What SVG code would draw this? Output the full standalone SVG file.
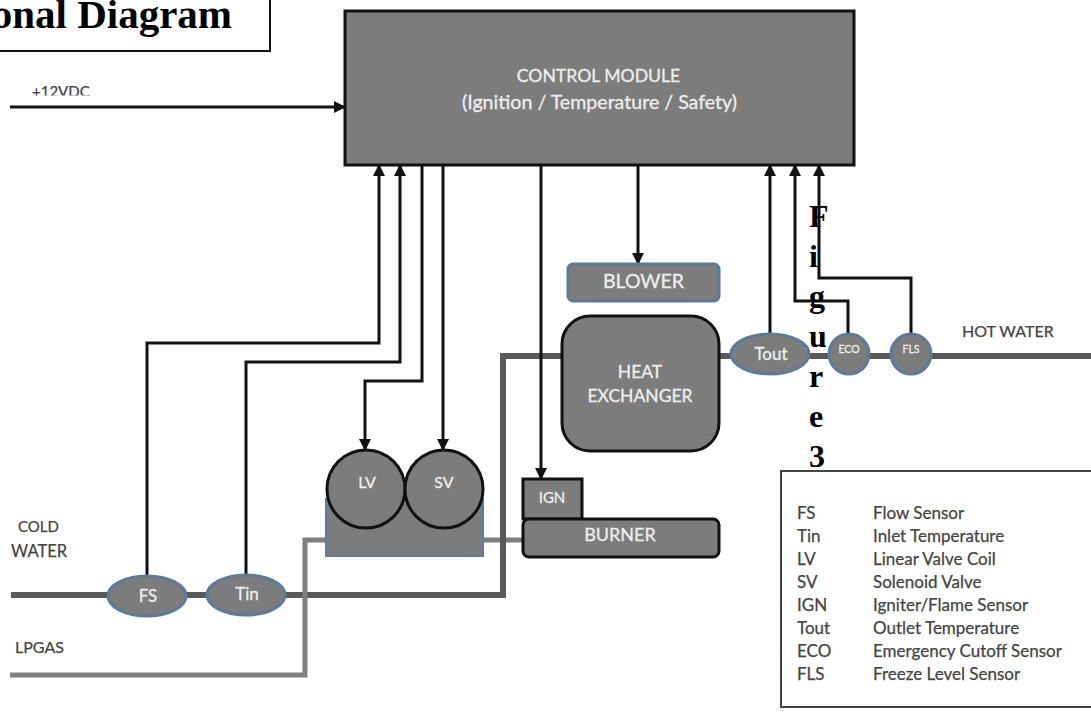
<svg xmlns="http://www.w3.org/2000/svg" width="1091" height="724" viewBox="0 0 1091 724">
<style>
text{font-family:Lato,"Open Sans","Liberation Sans",sans-serif}
.w{fill:#eee;text-anchor:middle;stroke:#eee;stroke-width:.3}
.k{fill:#444;stroke:#444;stroke-width:.25}
.t{font-family:"Liberation Serif",serif;font-weight:bold;fill:#000;stroke:none}
.n{fill:#7c7c7c;stroke:#111;stroke-width:3}
.b{fill:#7c7c7c;stroke:#5f7a99;stroke-width:3}
.c{fill:none;stroke:#111;stroke-width:3}
.p{fill:none;stroke:#595959;stroke-width:6}
.g{fill:none;stroke:#7f7f7f;stroke-width:5}
</style>
<defs><marker id="a" markerUnits="userSpaceOnUse" markerWidth="14" markerHeight="14" refX="12" refY="7" orient="auto"><path d="M1 1L13 7L1 13Z" fill="#111"/></marker>
<clipPath id="clip12"><rect x="20" y="70" width="90" height="25.500"/></clipPath></defs>
<rect width="1091" height="724" fill="#fff"/>
<g id="connectors">
<path class="p" d="M11 595H506"/>
<path class="g" d="M10 675H305V540H522"/>
<path class="p" d="M503 598V356H562"/>
<path class="p" d="M720 356H1091"/>
<path class="c" marker-end="url(#a)" d="M10 107H345"/>
<path class="c" marker-end="url(#a)" d="M147 577V343H379V165"/>
<path class="c" marker-end="url(#a)" d="M246 576V362H400V165"/>
<path class="c" marker-end="url(#a)" d="M422 165V381H365V450"/>
<path class="c" marker-end="url(#a)" d="M443 165V450"/>
<path class="c" marker-end="url(#a)" d="M541 165V479"/>
<path class="c" marker-end="url(#a)" d="M638 165V264"/>
<path class="c" marker-end="url(#a)" d="M770 335V165"/>
<path class="c" marker-end="url(#a)" d="M848 335V301H795V165"/>
<path class="c" marker-end="url(#a)" d="M911 335V278H819V165"/>
</g>
<g id="title"><rect x="-10" y="-10" width="280" height="61" fill="#fff" stroke="#111" stroke-width="2"/><text class="t" x="232" y="28" font-size="41" text-anchor="end">onal Diagram</text></g>
<g id="control"><rect class="n" x="345" y="11" width="509" height="154"/><text class="w" x="598.500" y="82" font-size="17.600">CONTROL MODULE</text><text class="w" x="599.500" y="109" font-size="19.600">(Ignition / Temperature / Safety)</text></g>
<g id="blower"><rect class="b" x="568" y="264" width="151" height="37" rx="5"/><text class="w" x="643.500" y="288" font-size="19.500">BLOWER</text></g>
<g id="hx"><rect class="n" x="562" y="316" width="157" height="135" rx="28"/><text class="w" x="640" y="378" font-size="17.500">HEAT</text><text class="w" x="640" y="402" font-size="17.500">EXCHANGER</text></g>
<g id="fs"><ellipse class="b" cx="147" cy="596" rx="39" ry="20"/><text class="w" x="148" y="602" font-size="17">FS</text></g>
<g id="tin"><ellipse class="b" cx="246" cy="595" rx="39" ry="20"/><text class="w" x="247" y="600" font-size="17">Tin</text></g>
<g id="tout"><ellipse class="b" cx="770" cy="354" rx="39" ry="20"/><text class="w" x="771" y="360" font-size="17">Tout</text></g>
<g id="eco"><circle class="b" cx="849" cy="354" r="20"/><text class="w" x="849" y="353" font-size="10.500">ECO</text></g>
<g id="fls"><circle class="b" cx="911" cy="354" r="20"/><text class="w" x="911" y="353" font-size="10.500">FLS</text></g>
<g id="valve"><path d="M326 498V556H483V498" fill="#7c7c7c" stroke="#5f7a99" stroke-width="2"/></g>
<g id="lv"><circle class="n" cx="366" cy="489" r="39"/><text class="w" x="367" y="488" font-size="16">LV</text></g>
<g id="sv"><circle class="n" cx="444" cy="489" r="39"/><text class="w" x="444" y="488" font-size="16">SV</text></g>
<g id="ign"><rect class="n" x="523" y="479" width="59" height="40"/><text class="w" x="552" y="503" font-size="15">IGN</text></g>
<g id="burner"><rect class="n" x="523" y="519" width="196" height="38" rx="6"/><text class="w" x="620" y="541" font-size="18">BURNER</text></g>
<g id="labels" font-size="16">
<text class="k" x="32" y="97" font-size="15" clip-path="url(#clip12)">+12VDC</text>
<text class="k" x="18" y="532" font-size="15">COLD</text><text class="k" x="11" y="557" font-size="16.500">WATER</text>
<text class="k" x="15" y="653">LPGAS</text>
<text class="k" x="962" y="337">HOT WATER</text>
</g>
<g id="fig" font-size="32"><text class="t" x="809" y="227">F</text><text class="t" x="809" y="267">i</text><text class="t" x="809" y="307">g</text><text class="t" x="809" y="347">u</text><text class="t" x="809" y="387">r</text><text class="t" x="809" y="427">e</text><text class="t" x="809" y="467">3</text></g>
<g id="legend" font-size="17"><rect x="781" y="471" width="320" height="236" fill="#fff" stroke="#444" stroke-width="2"/>
<text class="k" x="797" y="519">FS</text><text class="k" x="873" y="519">Flow Sensor</text>
<text class="k" x="797" y="542">Tin</text><text class="k" x="873" y="542">Inlet Temperature</text>
<text class="k" x="797" y="565">LV</text><text class="k" x="873" y="565">Linear Valve Coil</text>
<text class="k" x="797" y="588">SV</text><text class="k" x="873" y="588">Solenoid Valve</text>
<text class="k" x="797" y="611">IGN</text><text class="k" x="873" y="611">Igniter/Flame Sensor</text>
<text class="k" x="797" y="634">Tout</text><text class="k" x="873" y="634">Outlet Temperature</text>
<text class="k" x="797" y="657">ECO</text><text class="k" x="873" y="657">Emergency Cutoff Sensor</text>
<text class="k" x="797" y="680">FLS</text><text class="k" x="873" y="680">Freeze Level Sensor</text>
</g>
</svg>
